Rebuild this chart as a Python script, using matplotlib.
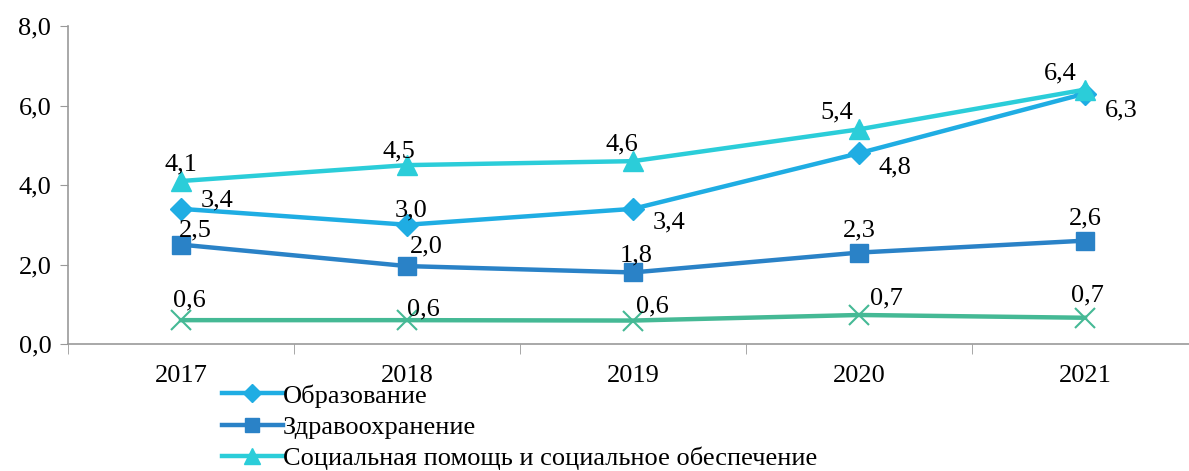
import numpy as np
import matplotlib.pyplot as plt

plt.rcParams['font.family'] = ['Liberation Serif', 'DejaVu Serif']

years = ['2017', '2018', '2019', '2020', '2021']
obrazovanie = [3.4, 3.0, 3.4, 4.8, 6.3]
zdravoohr = [2.5, 1.96, 1.8, 2.3, 2.6]
soc_pomosh = [4.1, 4.5, 4.6, 5.4, 6.4]
prochee = [0.6, 0.6, 0.59, 0.73, 0.66]

names = ['Образование', 'Здравоохранение',
         'Социальная помощь и социальное обеспечение']

fig = plt.figure(figsize=(11.89, 4.71), dpi=100)
ax = fig.add_axes([68 / 1189, 127 / 471, 1130 / 1189, 318 / 471])

x = np.arange(len(years))

ax.plot(x, obrazovanie, color='#1fade3', lw=3.2, marker='D', ms=11, label=names[0])
ax.plot(x, zdravoohr, color='#2a82c7', lw=3.2, marker='s', ms=13, label=names[1])
ax.plot(x, soc_pomosh, color='#2bcdd9', lw=3.2, marker='^', ms=14, label=names[2])
ax.plot(x, prochee, color='#45b995', lw=3.2, marker='x', ms=14, mew=1.5)

def lab(v):
    return ('%.1f' % round(v, 1)).replace('.', ',')

fs = 19
# подписи данных (смещения в пунктах)
obr_off = [(26, 6), (3, 10), (26, -10), (26, -10), (26, -12)]
zdr_off = [(10, 2), (14, 6), (2, 4), (0, 8), (0, 8)]
soc_off = [(0, 4), (-6, 2), (-8, 4), (-16, 4), (-18, 4)]
pro_off = [(6, 6), (12, 0), (14, 2), (20, 4), (2, 8)]

for i in range(len(years)):
    ax.annotate(lab(obrazovanie[i]), (x[i], obrazovanie[i]), xytext=obr_off[i],
                textcoords='offset points', ha='center', va='center', fontsize=fs)
    ax.annotate(lab(zdravoohr[i]), (x[i], zdravoohr[i]), xytext=zdr_off[i],
                textcoords='offset points', ha='center', va='bottom', fontsize=fs)
    ax.annotate(lab(soc_pomosh[i]), (x[i], soc_pomosh[i]), xytext=soc_off[i],
                textcoords='offset points', ha='center', va='bottom', fontsize=fs)
    ax.annotate(lab(prochee[i]), (x[i], prochee[i]), xytext=pro_off[i],
                textcoords='offset points', ha='center', va='bottom', fontsize=fs)

ax.set_xlim(-0.5, 4.5)
ax.set_ylim(0, 8)
ax.set_yticks([0, 2, 4, 6, 8])
ax.set_yticklabels(['0,0', '2,0', '4,0', '6,0', '8,0'], fontsize=fs)
ax.set_xticks(x)
ax.set_xticklabels(years, fontsize=fs)
ax.set_xticks(np.arange(-0.5, 5, 1), minor=True)
ax.tick_params(axis='x', which='major', length=0, pad=15)
ax.tick_params(axis='x', which='minor', length=7, color='#999999', direction='out')
ax.tick_params(axis='y', length=6, color='#999999', pad=6)

for s in ['top', 'right']:
    ax.spines[s].set_visible(False)
for s in ['left', 'bottom']:
    ax.spines[s].set_color('#999999')
    ax.spines[s].set_linewidth(1.2)

fig.legend(loc='upper left', bbox_to_anchor=(222 / 1189, 1 - 384 / 471),
           frameon=False, fontsize=fs, handlelength=2.3, handletextpad=0.0,
           labelspacing=0.3, borderaxespad=0, borderpad=0, markerscale=0.8)

fig.savefig('out.png', dpi=100)
